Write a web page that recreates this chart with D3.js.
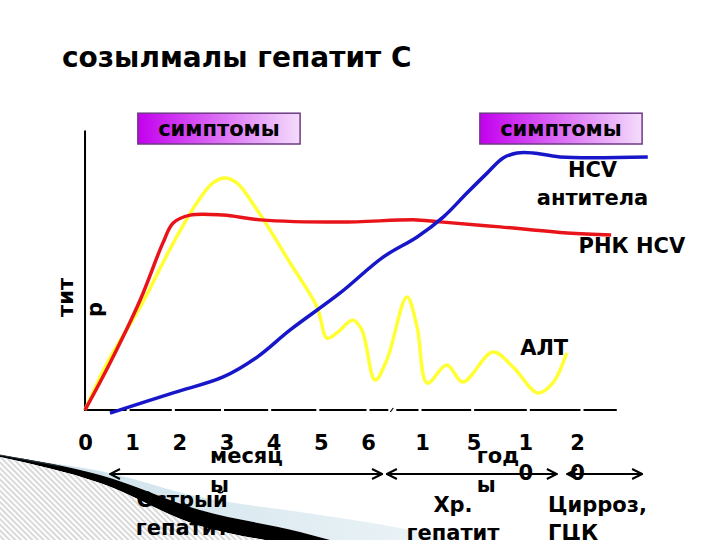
<!DOCTYPE html>
<html><head><meta charset="utf-8">
<script src="https://cdn.jsdelivr.net/npm/d3@7"></script>
<style>
body{margin:0;background:#fff}
svg{display:block}
text{font-family:"DejaVu Sans",Verdana,sans-serif;font-weight:bold;fill:#000}
</style>
</head><body>
<svg id="chart" width="720" height="540"></svg>
<script>
// ---------- data ----------
const titleText = "созылмалы гепатит С";
const yLabel = ["тит", "р"];
const tickIndex = [0,1,2,3,4,5,6,7,8,9,10];
const tickLabels = ["0","1","2","3","4","5","6","1","5","10","20"];
// x in tick-index units (0-6 months, 7-10 years: 1,5,10,20), y in titre %
const altPoints = [[0,0],[0.47,16.8],[1.17,36.8],[1.87,59.6],[2.37,73.9],[2.71,81.1],[2.97,82.9],[3.22,81.1],[3.65,71.4],[4.35,52.5],[4.92,36.8],[5.13,25.7],[5.34,27.5],[5.68,32.1],[5.87,28.6],[6.13,10.7],[6.35,17.9],[6.72,40.4],[6.91,29.6],[7.10,9.6],[7.48,16.1],[7.79,10.0],[8.37,20.7],[8.76,15.4],[9.24,6.1],[9.53,9.6],[9.80,20.4]];
const rnaPoints = [[0,0],[0.53,16.8],[1.17,39.3],[1.65,59.6],[1.87,66.8],[2.23,69.6],[2.93,69.6],[3.71,67.9],[5.41,67.1],[6.91,67.9],[7.41,67.1],[8.51,65.4],[9.81,63.2],[10.66,62.5]];
const antiPoints = [[0.53,-1.1],[1.87,6.1],[2.93,11.8],[3.65,18.9],[4.35,28.6],[5.41,41.8],[6.28,54.6],[6.91,61.8],[7.41,68.9],[7.87,77.5],[8.26,84.6],[8.57,90.0],[8.84,91.8],[9.15,91.8],[9.67,90.4],[11.37,90.4]];
const symptomLabel = "симптомы";
const symptomFrom = [1.12, 8.12];
const symptomTo = [4.56, 11.26];
const phaseNames = [["Острый","гепатит"],["Хр.","гепатит"],["Цирроз,","ГЦК"]];
const phaseFrom = [0.53, 6.35, 9.81];
const phaseTo = [6.26, 9.61, 11.26];
const unitNames = [["месяц","ы"],["год","ы"]];
const seriesNames = [["HCV","антитела"],["РНК HCV"],["АЛТ"]];

// ---------- scales ----------
const svg = d3.select("#chart");
const x = d3.scaleLinear().domain([0,6,7,10]).range([85,368,422,577]);
const y = d3.scaleLinear().domain([0,100]).range([410,130]);

// ---------- background decoration ----------
const defs = svg.append("defs");
const pat = defs.append("pattern").attr("id","hatch").attr("width",4).attr("height",4)
  .attr("patternUnits","userSpaceOnUse").attr("patternTransform","rotate(-45)");
pat.append("rect").attr("width",4).attr("height",4).attr("fill","#fff");
pat.append("line").attr("x1",1).attr("y1",0).attr("x2",1).attr("y2",4).attr("stroke","#c9c9c9").attr("stroke-width",1.4);
const bg = defs.append("linearGradient").attr("id","bandGrad").attr("x1","0").attr("x2","1");
bg.append("stop").attr("offset","0").attr("stop-color","#c9dfea");
bg.append("stop").attr("offset","1").attr("stop-color","#edf4f7");
const deco = svg.append("g");
const blackTop = [[0,455],[100,475],[200,510],[300,532],[330,540]];
const blackBot = [[0,457],[100,483],[200,526],[265,540]];
const bandTop = [[50,463],[100,471],[200,497],[300,512],[400,528],[455,540]];
const sm = d3.line().curve(d3.curveMonotoneX);
const smPath = pts => sm(pts).slice(1); // path without leading M
deco.append("path").attr("d", sm(bandTop) + "L330,540" + "L" + smPath(blackTop.slice().reverse()) + "Z").attr("fill","url(#bandGrad)");
deco.append("path").attr("d", sm(blackTop) + "L265,540" + "L" + smPath(blackBot.slice().reverse()) + "Z").attr("fill","#000");
deco.append("path").attr("d", sm(blackBot) + "L0,540Z").attr("fill","url(#hatch)");
deco.append("path").attr("d", sm([[0,455],[60,466]])).attr("stroke","#2a3a40").attr("stroke-width",1).attr("fill","none");

// ---------- title ----------
svg.append("text").attr("x",62).attr("y",67).attr("font-size",28).text(titleText);

// ---------- symptom boxes ----------
const sg = defs.append("linearGradient").attr("id","symGrad").attr("x1","0").attr("x2","1");
sg.append("stop").attr("offset","0").attr("stop-color","#c300ee");
sg.append("stop").attr("offset","1").attr("stop-color","#f4dcfb");
symptomFrom.forEach((f,i)=>{
  const g = svg.append("g");
  g.append("rect").attr("x",x(f)).attr("y",y(106)).attr("width",x(symptomTo[i])-x(f)).attr("height",y(95)-y(106))
    .attr("fill","url(#symGrad)").attr("stroke","#6e3a86").attr("stroke-width",1.5);
  g.append("text").attr("x",(x(f)+x(symptomTo[i]))/2).attr("y",(y(106)+y(95))/2+7)
    .attr("text-anchor","middle").attr("font-size",21).text(symptomLabel);
});

// ---------- axes ----------
svg.append("g").attr("transform",`translate(${x(-0.01)},0)`)
  .call(d3.axisLeft(y).tickValues([]).tickSizeOuter(0))
  .call(g=>g.select(".domain").attr("stroke","#000").attr("stroke-width",2));

// dashed baseline
const gaps = [x(1)-4, x(2)-6, x(3)-4, x(4)-4, x(5)-3, x(6), x(7)-2, x(8)-1, x(9)+3, x(10)+5];
const breakX = x(6.45);
const segs = [];
let cur = x(-0.02);
gaps.concat([breakX]).sort((a,b)=>a-b).forEach(gx=>{
  const w = gx===breakX ? 4 : 1.5;
  segs.push([cur, gx - w]); cur = gx + w;
});
segs.push([cur, x(10.77)]);
svg.append("g").selectAll("line").data(segs).join("line")
  .attr("x1",d=>d[0]).attr("x2",d=>d[1]).attr("y1",y(0)).attr("y2",y(0))
  .attr("stroke","#000").attr("stroke-width",2);
svg.append("line").attr("x1",breakX-2).attr("x2",breakX+1).attr("y1",y(0)+2).attr("y2",y(0)-2)
  .attr("stroke","#000").attr("stroke-width",1.2);

const xAxis = svg.append("g").attr("transform",`translate(0,${y(0)})`)
  .call(d3.axisBottom(x).tickValues(tickIndex).tickFormat(i=>tickLabels[i]).tickSize(0).tickPadding(25));
xAxis.select(".domain").remove();
xAxis.selectAll("text").attr("font-size",21).attr("font-family","DejaVu Sans").attr("font-weight","bold").attr("fill","#000")
  .each(function(){
    const t = d3.select(this); const s = t.text();
    if (s.length>1){
      t.text(null);
      s.split("").forEach((c,k)=>t.append("tspan").attr("x",0).attr("dy",k?"1.43em":null).text(c));
    }
  });

// y label
const yl = svg.append("text").attr("transform",`translate(73,317) rotate(-90)`).attr("font-size",21);
yLabel.forEach((s,k)=>yl.append("tspan").attr("x",0).attr("dy",k?"1.4em":null).text(s));

// ---------- curves ----------
const line = d3.line().x(d=>x(d[0])).y(d=>y(d[1])).curve(d3.curveCatmullRom.alpha(0.5));
svg.append("path").attr("d",line(altPoints)).attr("fill","none").attr("stroke","#ffff33").attr("stroke-width",3.5).attr("stroke-linejoin","round");
svg.append("path").attr("d",line(rnaPoints)).attr("fill","none").attr("stroke","#e8141a").attr("stroke-width",3.5);
svg.append("path").attr("d",line(antiPoints)).attr("fill","none").attr("stroke","#1717c9").attr("stroke-width",3.5);

// series labels
const sl = svg.append("g").attr("font-size",21);
const hcv = sl.append("text").attr("text-anchor","middle").attr("x",x(10.3)).attr("y",y(83.2));
seriesNames[0].forEach((s,k)=>hcv.append("tspan").attr("x",x(10.3)).attr("dy",k?"1.33em":null).text(s));
sl.append("text").attr("x",x(10.03)).attr("y",y(56)).text(seriesNames[1][0]);
sl.append("text").attr("x",x(8.9)).attr("y",y(19.6)).text(seriesNames[2][0]);

// ---------- phases ----------
const mk = defs.append("marker").attr("id","ah").attr("viewBox","0 0 12 12").attr("refX",11).attr("refY",6)
  .attr("markerWidth",12).attr("markerHeight",12).attr("markerUnits","userSpaceOnUse").attr("orient","auto-start-reverse");
mk.append("path").attr("d","M1,1 L11,6 L1,11").attr("fill","none").attr("stroke","#000").attr("stroke-width",2);
const arrowY = 474;
svg.append("g").selectAll("line").data(phaseFrom).join("line")
  .attr("x1",d=>x(d)).attr("x2",(d,i)=>x(phaseTo[i])).attr("y1",arrowY).attr("y2",arrowY)
  .attr("stroke","#000").attr("stroke-width",2)
  .attr("marker-start","url(#ah)").attr("marker-end","url(#ah)");

// unit labels
const unitX = [x(2.65), x(8.06)];
unitNames.forEach((u,i)=>{
  const t = svg.append("text").attr("x",unitX[i]).attr("y",463).attr("font-size",21);
  u.forEach((s,k)=>t.append("tspan").attr("x",unitX[i]).attr("dy",k?"1.38em":null).text(s));
});

// phase labels
const phaseX = [x(2.06), x(7.6), x(9.44)];
const phaseAnchor = ["middle","middle","start"];
const phaseY = [507, 512, 512];
phaseNames.forEach((p,i)=>{
  const t = svg.append("text").attr("x",phaseX[i]).attr("y",phaseY[i]).attr("font-size",21).attr("text-anchor",phaseAnchor[i]);
  p.forEach((s,k)=>t.append("tspan").attr("x",phaseX[i]).attr("dy",k?"1.33em":null).text(s));
});
</script>
</body></html>
